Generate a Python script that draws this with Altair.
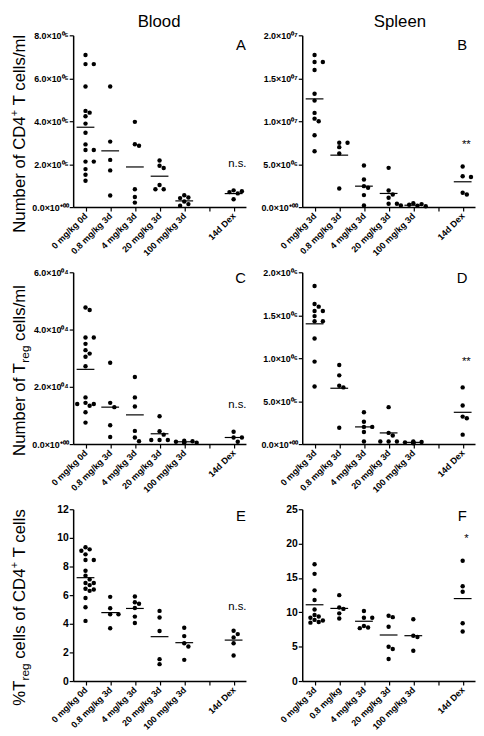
import altair as alt
import pandas as pd

FONT = "Liberation Sans"

# ---- category labels (slot 5 is an empty gap with a tick) ----
CATS_BLOOD = ["0 mg/kg 0d", "0.8 mg/kg 3d", "4 mg/kg 3d", "20 mg/kg 3d", "100 mg/kg 3d", "", "14d Dex"]
CATS_SPLEEN = ["0 mg/kg 3d", "0.8 mg/kg 3d", "4 mg/kg 3d", "20 mg/kg 3d", "100 mg/kg 3d", "", "14d Dex"]
CATS_F = ["0 mg/kg 3d", "0.8 mg/kg", "4 mg/kg 3d", "20 mg/kg 3d", "100 mg/kg 3d", "", "14d Dex"]
GROUP_SLOTS = [0, 1, 2, 3, 4, 6]

# ---- Panel A: blood CD4+ T cells / ml ----
A_vals = [
    [7.08e5, 6.66e5, 6.66e5, 5.62e5, 4.48e5, 4.40e5, 4.23e5, 3.89e5, 3.46e5, 2.92e5, 2.66e5, 2.66e5, 2.12e5, 2.12e5, 1.77e5, 1.51e5, 1.23e5],
    [5.62e5, 3.05e5, 2.20e5, 1.71e5, 0.54e5],
    [3.97e5, 2.93e5, 2.86e5, 0.83e5, 0.47e5, 0.21e5],
    [2.17e5, 1.93e5, 1.82e5, 1.03e5, 0.83e5, 0.83e5],
    [0.55e5, 0.45e5, 0.42e5, 0.26e5, 0.14e5, 0.06e5],
    [0.78e5, 0.74e5, 0.70e5, 0.64e5, 0.37e5],
]
A_means = [3.72e5, 2.62e5, 1.87e5, 1.44e5, 0.29e5, 0.63e5]
A_ticks = [0, 2e5, 4e5, 6e5, 8e5]
A_tick_labels = ["0.0×10⁺⁰⁰", "2.0×10⁰⁵", "4.0×10⁰⁵", "6.0×10⁰⁵", "8.0×10⁰⁵"]

# ---- Panel B: spleen CD4+ T cells / ml ----
B_vals = [
    [17.7e6, 16.9e6, 16.9e6, 15.97e6, 13.2e6, 12.4e6, 10.97e6, 10.3e6, 10.0e6, 8.37e6, 6.5e6],
    [7.5e6, 7.5e6, 6.98e6, 6.24e6, 2.17e6],
    [4.84e6, 3.22e6, 2.44e6, 2.25e6, 1.4e6, 0.19e6],
    [4.57e6, 1.94e6, 1.47e6, 1.09e6, 0.39e6, 0.39e6],
    [0.45e6, 0.35e6, 0.28e6, 0.2e6, 0.15e6, 0.1e6],
    [4.73e6, 3.6e6, 3.5e6, 1.67e6, 1.47e6],
]
B_means = [12.6e6, 6.05e6, 2.44e6, 1.59e6, 0.22e6, 2.95e6]
B_ticks = [0, 5e6, 10e6, 15e6, 20e6]
B_tick_labels = ["0.0×10⁺⁰⁰", "5.0×10⁰⁶", "1.0×10⁰⁷", "1.5×10⁰⁷", "2.0×10⁰⁷"]

# ---- Panel C: blood Treg / ml ----
C_vals = [
    [4.77e4, 4.68e4, 3.72e4, 3.72e4, 3.5e4, 3.28e4, 3.16e4, 3.05e4, 2.72e4, 1.63e4, 1.44e4, 1.40e4, 1.40e4, 1.34e4, 1.11e4, 0.75e4],
    [2.84e4, 1.44e4, 1.29e4, 0.66e4, 0.25e4],
    [2.34e4, 1.63e4, 1.31e4, 0.46e4, 0.23e4, 0.10e4],
    [0.97e4, 0.45e4, 0.33e4, 0.14e4, 0.14e4, 0.14e4],
    [0.12e4, 0.10e4, 0.08e4, 0.06e4, 0.05e4, 0.04e4],
    [0.43e4, 0.23e4, 0.23e4, 0.08e4],
]
C_means = [2.61e4, 1.29e4, 1.02e4, 0.36e4, 0.08e4, 0.23e4]
C_ticks = [0, 2e4, 4e4, 6e4]
C_tick_labels = ["0.0×10⁺⁰⁰", "2.0×10⁰⁴", "4.0×10⁰⁴", "6.0×10⁰⁴"]

# ---- Panel D: spleen Treg / ml ----
D_vals = [
    [1.84e6, 1.63e6, 1.60e6, 1.55e6, 1.55e6, 1.49e6, 1.43e6, 1.43e6, 1.23e6, 0.96e6, 0.67e6],
    [0.92e6, 0.80e6, 0.68e6, 0.66e6, 0.19e6],
    [0.37e6, 0.26e6, 0.20e6, 0.20e6, 0.14e6, 0.03e6],
    [0.43e6, 0.13e6, 0.10e6, 0.03e6, 0.03e6, 0.03e6],
    [0.03e6, 0.025e6, 0.02e6, 0.02e6, 0.015e6, 0.01e6],
    [0.66e6, 0.45e6, 0.32e6, 0.30e6, 0.11e6],
]
D_means = [1.40e6, 0.65e6, 0.20e6, 0.13e6, 0.02e6, 0.37e6]
D_ticks = [0, 5e5, 10e5, 15e5, 20e5]
D_tick_labels = ["0.0×10⁺⁰⁰", "5.0×10⁰⁵", "1.0×10⁰⁶", "1.5×10⁰⁶", "2.0×10⁰⁶"]

# ---- Panel E: blood % Treg of CD4+ ----
E_vals = [
    [9.35, 9.2, 9.1, 8.85, 8.45, 8.45, 7.7, 7.35, 7.1, 6.85, 6.85, 6.7, 6.45, 6.4, 6.3, 5.8, 5.15, 4.2],
    [5.88, 5.08, 4.66, 4.66, 3.69],
    [5.9, 5.5, 5.4, 5.1, 4.5, 4.05],
    [4.9, 4.44, 3.49, 1.53, 1.18],
    [3.72, 3.14, 2.64, 2.41, 1.48],
    [3.51, 3.28, 3.05, 2.64, 1.78],
]
E_means = [7.22, 4.78, 5.07, 3.1, 2.68, 2.86]
E_ticks = [0, 2, 4, 6, 8, 10, 12]
E_tick_labels = ["0", "2", "4", "6", "8", "10", "12"]

# ---- Panel F: spleen % Treg of CD4+ ----
F_vals = [
    [17.0, 15.6, 13.2, 11.8, 10.4, 9.6, 9.4, 9.2, 8.9, 8.8, 8.6, 8.5],
    [12.5, 10.7, 10.5, 9.85, 9.1],
    [10.2, 9.2, 9.2, 8.0, 7.8, 7.7],
    [9.5, 9.3, 7.9, 5.0, 4.66, 3.2],
    [9.0, 6.6, 6.4, 4.4],
    [17.5, 13.8, 13.0, 8.4, 7.2],
]
F_means = [11.1, 10.57, 8.7, 6.7, 6.6, 12.0]
F_ticks = [0, 5, 10, 15, 20, 25]
F_tick_labels = ["0", "5", "10", "15", "20", "25"]

# significance annotations: (text, y value)
A_sig = ("n.s.", 2.0e5)
B_sig = ("**", 7.2e6)
C_sig = ("n.s.", 1.36e4)
D_sig = ("**", 0.96e6)
E_sig = ("n.s.", 5.2)
F_sig = ("*", 20.6)

PW, PH = 175, 174


def spread(groups, ymax, step=4.2, d=4.4):
    rows = []
    for slot, vals in zip(GROUP_SLOTS, groups):
        placed = []
        for v in sorted(vals, reverse=True):
            py = v / ymax * PH
            chosen = 0
            for off in [0, step, -step, 2 * step, -2 * step, 3 * step, -3 * step]:
                if all((off - px) ** 2 + (py - qy) ** 2 >= d * d for px, qy in placed):
                    chosen = off
                    break
            placed.append((chosen, py))
            rows.append({"x": slot + chosen / 25.0, "v": v})
    return pd.DataFrame(rows)


def note(text, x, y, size, align="center", baseline="alphabetic", angle=0, dx=0, dy=0):
    return alt.Chart(pd.DataFrame({"t": [text]})).mark_text(
        text=text, font=FONT, fontSize=size, color="black", align=align,
        baseline=baseline, angle=angle, dx=dx, dy=dy
    ).encode(x=alt.value(x), y=alt.value(y))


def ytitle(pieces, x, y):
    # pieces: (text, fontSize, dx, dy) drawn rotated, bottom to top
    return [note(t, x, y, s, align="left", angle=270, dx=dx, dy=dy) for t, s, dx, dy in pieces]


def panel(groups, means, ticks, tick_labels, cats, sig, extra, ylab_size=9):
    ymax = ticks[-1]
    xs = alt.Scale(domain=[-0.5, 6.5], nice=False, zero=False)
    ys = alt.Scale(domain=[0, ymax], nice=False, zero=True)
    cat_expr = "[" + ",".join("'" + c + "'" for c in cats) + "][round(datum.value)]"
    tick_expr = "[" + ",".join("'" + t + "'" for t in tick_labels) + "][round(datum.value/" + repr(ticks[1]) + ")]"
    xaxis = alt.Axis(values=list(range(7)), labelExpr=cat_expr, labelAngle=315, labelAlign="right",
                     labelBaseline="middle", labelPadding=3, labelOverlap=False, labelFlush=False,
                     labelBound=False, title=None)
    yaxis = alt.Axis(values=ticks, labelExpr=tick_expr, labelOverlap=False, labelFlush=False,
                     labelPadding=1, labelFontSize=ylab_size, title=None)
    pts = spread(groups, ymax)
    dots = alt.Chart(pts).mark_circle(size=20, color="black", opacity=1).encode(
        x=alt.X("x:Q", scale=xs, axis=xaxis),
        y=alt.Y("v:Q", scale=ys, axis=yaxis),
    )
    mdf = pd.DataFrame({"x": [s - 0.36 for s in GROUP_SLOTS], "x2": [s + 0.36 for s in GROUP_SLOTS], "m": means})
    rules = alt.Chart(mdf).mark_rule(color="black", strokeWidth=1.2).encode(
        x=alt.X("x:Q", scale=xs, axis=xaxis), x2="x2:Q",
        y=alt.Y("m:Q", scale=ys, axis=yaxis),
    )
    sdf = pd.DataFrame({"x": [6.15], "y": [sig[1]]})
    sig_t = alt.Chart(sdf).mark_text(text=sig[0], font=FONT, fontSize=11.5, color="black", baseline="middle").encode(
        x=alt.X("x:Q", scale=xs, axis=xaxis), y=alt.Y("y:Q", scale=ys, axis=yaxis)
    )
    return alt.layer(dots, rules, sig_t, *extra).properties(width=PW, height=PH)


SP = 4.7  # width of a space at 17px
TX = -49
pA = panel(A_vals, A_means, A_ticks, A_tick_labels, CATS_BLOOD, A_sig,
           [note("A", 175, 15, 15, align="right"), note("Blood", 87, -8, 17)] +
           ytitle([("Number of CD4", 17, 0, 0), ("+", 11, 118.1, -7), ("T cells/ml", 17, 124.5 + SP, 0)], TX, 200))
pB = panel(B_vals, B_means, B_ticks, B_tick_labels, CATS_SPLEEN, B_sig,
           [note("B", 162, 15, 15), note("Spleen", 99, -8, 17)])
pC = panel(C_vals, C_means, C_ticks, C_tick_labels, CATS_BLOOD, C_sig,
           [note("C", 175, 11, 15, align="right")] +
           ytitle([("Number of T", 17, 0, 0), ("reg", 12, 94.5, 4), ("cells/ml", 17, 111.8 + SP, 0)], TX, 186))
pD = panel(D_vals, D_means, D_ticks, D_tick_labels, CATS_SPLEEN, D_sig,
           [note("D", 162, 11, 15)])
pE = panel(E_vals, E_means, E_ticks, E_tick_labels, CATS_BLOOD, E_sig,
           [note("E", 175, 12, 15, align="right")] +
           ytitle([("%T", 17, 0, 0), ("reg", 12, 25.5, 4), ("cells of CD4", 17, 42.8 + SP, 0),
                   ("+", 11, 139.2, -7), ("T cells", 17, 145.6 + SP, 0)], TX, 199), ylab_size=10.5)
pF = panel(F_vals, F_means, F_ticks, F_tick_labels, CATS_F, F_sig,
           [note("F", 162, 12, 15)], ylab_size=10.5)

chart = alt.concat(pA, pB, pC, pD, pE, pF, columns=2, spacing={"row": 66, "column": 57}, bounds="flush").properties(
    padding={"left": 0, "top": 0, "right": 0, "bottom": 0}
).configure_view(stroke="transparent").configure_axis(
    grid=False, domainColor="black", domainWidth=1.5, tickColor="black", tickWidth=1.2, tickSize=4,
    labelColor="black", labelFont=FONT, labelFontWeight="bold", labelFontSize=9,
    labelOverlap=False, labelFlush=False,
)

chart.save("out.html", embed_options={"renderer": "svg", "actions": False})
